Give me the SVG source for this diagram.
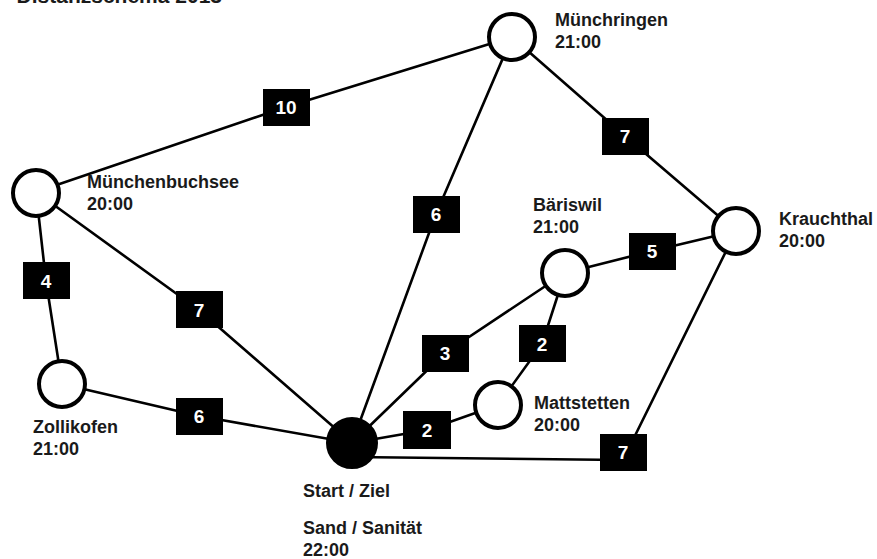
<svg xmlns="http://www.w3.org/2000/svg" width="877" height="559" viewBox="0 0 877 559">
<style>
.n{fill:#fff;stroke:#000;stroke-width:4}
.s{fill:#000;stroke:#000;stroke-width:2}
.e{fill:none;stroke:#000;stroke-width:2.6;stroke-linejoin:round}
.b{fill:#000}
.bt{fill:#fff;font-family:"Liberation Sans",Arial,sans-serif;font-weight:bold;font-size:19px;text-anchor:middle}
.t{fill:#1a1a1a;font-family:"Liberation Sans",Arial,sans-serif;font-weight:bold;font-size:18px}
</style>
<rect width="877" height="559" fill="#fff"/>
<text class="t" x="222" y="3" text-anchor="end" style="font-size:21px">Distanzschema 2013</text>
<g id="connectors">
<polyline class="e" points="36,192 286,107 512,37"/>
<polyline class="e" points="512,37 625,136 736,231"/>
<polyline class="e" points="512,37 436,214 352,443"/>
<polyline class="e" points="36,192 46,281 62,384"/>
<polyline class="e" points="36,192 199,310 352,443"/>
<polyline class="e" points="62,384 199,416 352,443"/>
<polyline class="e" points="352,443 445,353 565,273"/>
<polyline class="e" points="565,273 652,251 736,231"/>
<polyline class="e" points="565,273 542,344 498,405"/>
<polyline class="e" points="352,443 427,430 498,405"/>
<polyline class="e" points="352,457 623,460 736,231"/>
</g>
<g id="edge-labels">
<rect class="b" x="263" y="89" width="47" height="37"/><text class="bt" x="286" y="114">10</text>
<rect class="b" x="602" y="118" width="47" height="37"/><text class="bt" x="625" y="143">7</text>
<rect class="b" x="413" y="196" width="47" height="37"/><text class="bt" x="436" y="221">6</text>
<rect class="b" x="629" y="233" width="47" height="37"/><text class="bt" x="652" y="258">5</text>
<rect class="b" x="23" y="262" width="47" height="37"/><text class="bt" x="46" y="288">4</text>
<rect class="b" x="176" y="291" width="47" height="37"/><text class="bt" x="199" y="317">7</text>
<rect class="b" x="422" y="335" width="47" height="37"/><text class="bt" x="445" y="360">3</text>
<rect class="b" x="519" y="325" width="47" height="37"/><text class="bt" x="542" y="351">2</text>
<rect class="b" x="176" y="398" width="47" height="37"/><text class="bt" x="199" y="423">6</text>
<rect class="b" x="403" y="411" width="48" height="38"/><text class="bt" x="427" y="437">2</text>
<rect class="b" x="600" y="434" width="47" height="37"/><text class="bt" x="623" y="459">7</text>
</g>
<g id="muenchringen"><circle class="n" cx="512" cy="37" r="23"/><text class="t" x="555" y="26">Münchringen</text><text class="t" x="555" y="48">21:00</text></g>
<g id="muenchenbuchsee"><circle class="n" cx="36" cy="193" r="23"/><text class="t" x="87" y="188">Münchenbuchsee</text><text class="t" x="87" y="210">20:00</text></g>
<g id="zollikofen"><circle class="n" cx="62" cy="384" r="23"/><text class="t" x="33" y="433">Zollikofen</text><text class="t" x="33" y="455">21:00</text></g>
<g id="start"><circle class="s" cx="352" cy="443" r="25"/><text class="t" x="303" y="497">Start / Ziel</text><text class="t" x="303" y="534">Sand / Sanität</text><text class="t" x="303" y="556">22:00</text></g>
<g id="mattstetten"><circle class="n" cx="498" cy="405" r="23"/><text class="t" x="534" y="409">Mattstetten</text><text class="t" x="534" y="431">20:00</text></g>
<g id="baeriswil"><circle class="n" cx="565" cy="273" r="23"/><text class="t" x="533" y="211">Bäriswil</text><text class="t" x="533" y="233">21:00</text></g>
<g id="krauchthal"><circle class="n" cx="736" cy="231" r="23"/><text class="t" x="779" y="225">Krauchthal</text><text class="t" x="779" y="247">20:00</text></g>
</svg>
